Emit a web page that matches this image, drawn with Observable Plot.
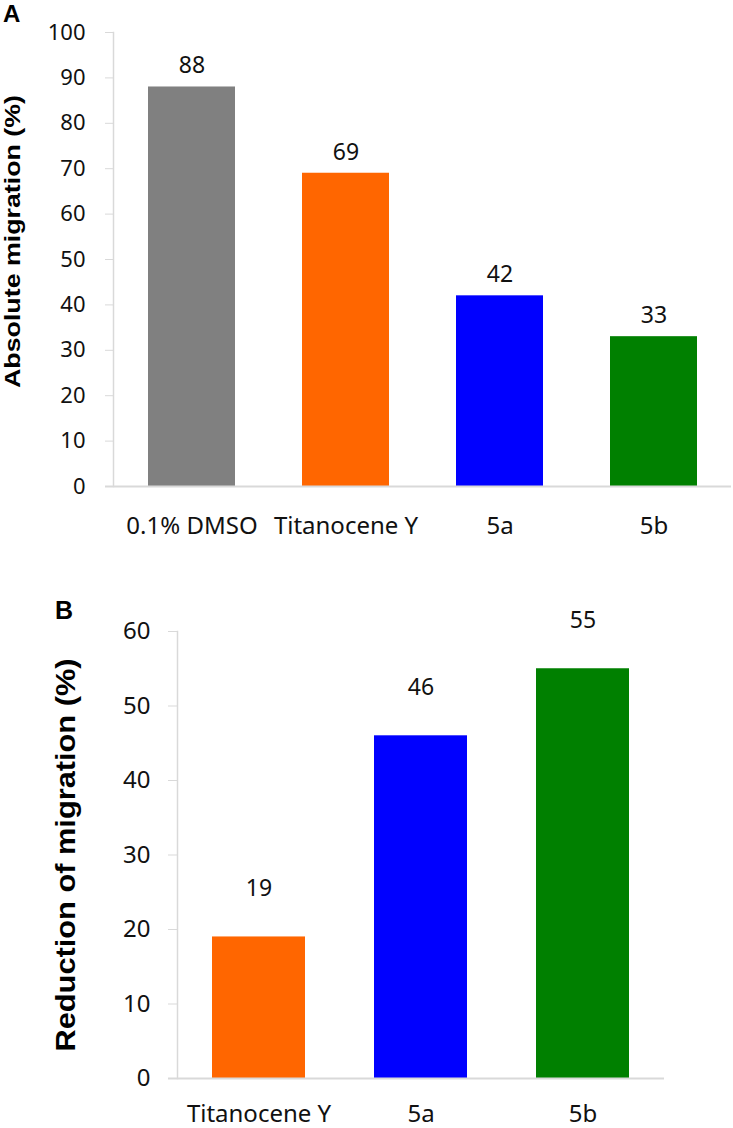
<!DOCTYPE html>
<html><head><meta charset="utf-8">
<script src="https://cdn.jsdelivr.net/npm/d3@7"></script>
<script src="https://cdn.jsdelivr.net/npm/@observablehq/plot@0.6"></script>
<style>
body{margin:0;background:#fff;}
#wrap{position:relative;width:733px;height:1128px;overflow:hidden;background:#fff;}
#wrap svg{display:block;}
.panel{position:absolute;font-family:"Liberation Sans",Arial,sans-serif;font-weight:bold;line-height:1;color:#000;}
</style></head><body>
<div id="wrap"></div>
<script>
// ---- data ----
const categoriesA = ["0.1% DMSO", "Titanocene Y", "5a", "5b"];
const valuesA = [88, 69, 42, 33];
const colorsA = ["#808080", "#ff6600", "#0000ff", "#008000"];
const yTicksA = [0, 10, 20, 30, 40, 50, 60, 70, 80, 90, 100];
const titleA = "Absolute migration (%)";

const categoriesB = ["Titanocene Y", "5a", "5b"];
const valuesB = [19, 46, 55];
const colorsB = ["#ff6600", "#0000ff", "#008000"];
const yTicksB = [0, 10, 20, 30, 40, 50, 60];
const titleB = "Reduction of migration (%)";

const axisGray = "#d9d9d9";
const textColor = "#111";

function panel(cfg) {
  const data = cfg.categories.map((c, i) => ({cat: c, value: cfg.values[i], color: cfg.colors[i]}));
  const svg = Plot.plot({
    width: 733,
    height: cfg.height,
    marginLeft: cfg.marginLeft,
    marginRight: cfg.marginRight,
    marginTop: cfg.marginTop,
    marginBottom: cfg.marginBottom,
    style: {fontFamily: "'Noto Sans', sans-serif", background: "#fff", color: textColor},
    x: {domain: cfg.categories, paddingInner: cfg.pad, paddingOuter: cfg.pad / 2, label: null, axis: null},
    y: {domain: cfg.domain, label: null, axis: null},
    color: {type: "identity"},
    marks: [
      Plot.barY(data, {x: "cat", y: "value", fill: "color"}),
      Plot.frame({anchor: "left", stroke: axisGray, strokeWidth: 1.5}),
      Plot.ruleY([0], {stroke: axisGray, strokeWidth: 2, insetLeft: -cfg.tickSize}),
      Plot.axisY({ticks: cfg.ticks, tickSize: cfg.tickSize, tickPadding: cfg.tickPadding, stroke: axisGray, fill: textColor, fontSize: cfg.tickFont, label: null, tickFormat: d => String(d)}),
      Plot.axisX({tickSize: 0, tickPadding: cfg.catPadding, fill: textColor, fontSize: cfg.catFont, label: null}),
      Plot.text(data, {x: "cat", y: "value", text: d => String(d.value), dy: cfg.valueDy, fontSize: cfg.valueFont, fill: textColor}),
      Plot.text([cfg.title], {frameAnchor: "left", rotate: -90, dx: cfg.titleDx, dy: cfg.titleDy, textAnchor: "middle", lineAnchor: "top", fontWeight: "bold", fontSize: cfg.titleFont, fontFamily: "'Liberation Sans', Arial, sans-serif", fill: "#000"})
    ]
  });
  svg.querySelectorAll("text").forEach(t => {
    if (t.textContent === cfg.title) {
      t.setAttribute("textLength", cfg.titleLength);
      t.setAttribute("lengthAdjust", "spacingAndGlyphs");
    }
  });
  return svg;
}

const wrap = document.getElementById("wrap");
wrap.appendChild(panel({
  categories: categoriesA, values: valuesA, colors: colorsA, ticks: yTicksA, domain: [0, 100], title: titleA,
  height: 546, marginLeft: 113, marginRight: 2, marginTop: 32, marginBottom: 60,
  pad: 0.437, tickSize: 8, tickPadding: 20, tickFont: 22, catFont: 24, catPadding: 30, valueFont: 23, valueDy: -21,
  titleDx: -109, titleDy: -18, titleFont: 22, titleLength: 293
}));
wrap.appendChild(panel({
  categories: categoriesB, values: valuesB, colors: colorsB, ticks: yTicksB, domain: [0, 60], title: titleB,
  height: 582, marginLeft: 177, marginRight: 69, marginTop: 85, marginBottom: 50,
  pad: 0.427, tickSize: 9, tickPadding: 18, tickFont: 24, catFont: 24, catPadding: 26, valueFont: 23, valueDy: -48,
  titleDx: -122, titleDy: 0, titleFont: 28, titleLength: 393
}));

const la = document.createElement("div");
la.className = "panel"; la.textContent = "A";
la.style.cssText = "left:3px;top:2px;font-size:24px;";
wrap.appendChild(la);
const lb = document.createElement("div");
lb.className = "panel"; lb.textContent = "B";
lb.style.cssText = "left:55px;top:598px;font-size:25px;";
wrap.appendChild(lb);
</script>
</body></html>
